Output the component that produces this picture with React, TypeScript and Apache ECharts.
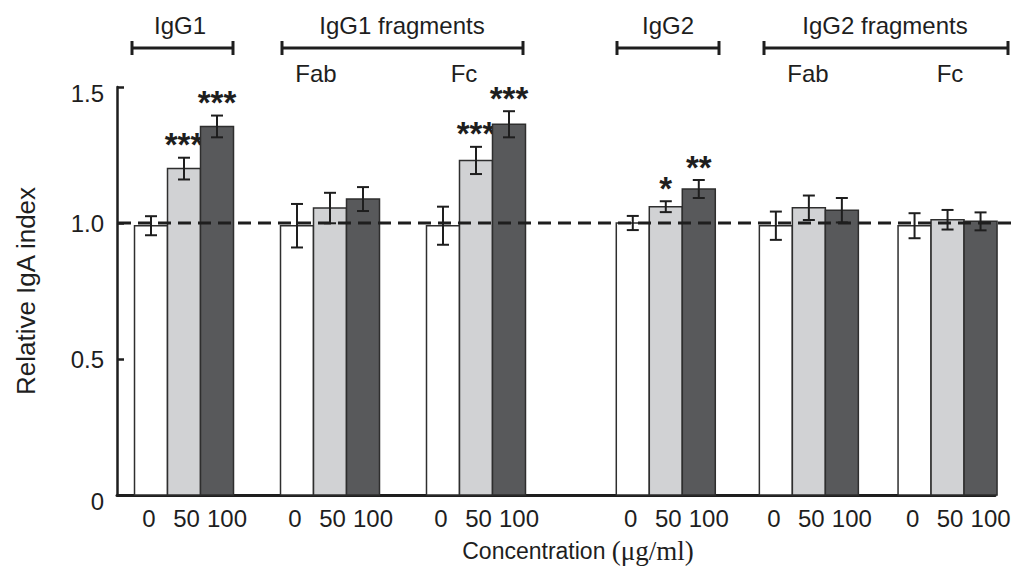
import { useEffect, useRef } from 'react';
import * as echarts from 'echarts';

// Groups of antibody treatment, each measured at three concentrations
const groupNames = ['IgG1', 'IgG1 Fab', 'IgG1 Fc', 'IgG2', 'IgG2 Fab', 'IgG2 Fc'];
const groupPos = [1, 2, 3, 4.3, 5.28, 6.23];
const concentrations = ['0', '50', '100'];

// Relative IgA index (mean) per group, by concentration
const conc0 = [0.99, 0.99, 0.99, 1.0, 0.99, 0.99];
const conc50 = [1.2, 1.055, 1.23, 1.06, 1.056, 1.012];
const conc100 = [1.355, 1.088, 1.363, 1.125, 1.047, 1.006];

// Error (± half-range) per group, by concentration
const err0 = [0.035, 0.08, 0.07, 0.026, 0.052, 0.046];
const err50 = [0.04, 0.056, 0.05, 0.02, 0.045, 0.036];
const err100 = [0.04, 0.044, 0.048, 0.033, 0.045, 0.033];

// Significance marks
const stars0 = ['', '', '', '', '', ''];
const stars50 = ['***', '', '***', '*', '', ''];
const stars100 = ['***', '', '***', '**', '', ''];

const FONT = '"Liberation Sans", Arial, Helvetica, sans-serif';
const SERIF = '"Liberation Serif", "Times New Roman", serif';
const INK = '#1e1e1e';
const BAR_W = 33;
const barColors = ['#ffffff', '#d1d2d4', '#58595b'];
const labelShift = [-2, 2.5, 10];

export default function App() {
  const ref = useRef<HTMLDivElement>(null);

  useEffect(() => {
    const chart = echarts.init(ref.current!, null, { renderer: 'svg' });
    const values = [conc0, conc50, conc100];
    const errors = [err0, err50, err100];
    const stars = [stars0, stars50, stars100];

    const rows: { pos: number; k: number; value: number; err: number; star: string }[] = [];
    groupNames.forEach((_, g) => {
      for (let k = 0; k < 3; k++) {
        rows.push({ pos: groupPos[g], k, value: values[k][g], err: errors[k][g], star: stars[k][g] });
      }
    });

    const bracket = (x1: number, x2: number, y: number) => [
      { type: 'line', shape: { x1, y1: y, x2, y2: y }, style: { stroke: INK, lineWidth: 3 } },
      { type: 'line', shape: { x1, y1: y - 7, x2: x1, y2: y + 7 }, style: { stroke: INK, lineWidth: 3 } },
      { type: 'line', shape: { x1: x2, y1: y - 7, x2, y2: y + 7 }, style: { stroke: INK, lineWidth: 3 } },
    ];
    const label = (text: string, x: number, y: number) => ({
      type: 'text',
      x,
      y,
      style: { text, fill: INK, fontSize: 24, fontFamily: FONT, align: 'center', verticalAlign: 'middle' },
    });

    chart.setOption({
      animation: false,
      grid: { left: 117, right: 23, top: 87, bottom: 78 },
      xAxis: {
        type: 'value',
        min: 0.541,
        max: 6.555,
        axisLine: { lineStyle: { color: INK, width: 3 } },
        axisTick: { show: false },
        axisLabel: { show: false },
        splitLine: { show: false },
      },
      yAxis: {
        type: 'value',
        min: 0,
        max: 1.5,
        interval: 0.5,
        name: 'Relative IgA index',
        nameLocation: 'middle',
        nameGap: 78,
        nameTextStyle: { color: INK, fontSize: 26, fontFamily: FONT },
        axisLine: { show: true, lineStyle: { color: INK, width: 2.5 } },
        axisTick: { show: true, inside: true, length: 7, lineStyle: { color: INK, width: 2.5 } },
        axisLabel: {
          color: INK,
          fontSize: 24,
          fontFamily: FONT,
          margin: 13,
          formatter: (v: number) => {
            if (v === 0) return '{low|0}';
            if (v === 1.5) return '{low|1.5}';
            return v.toFixed(1);
          },
          rich: {
            low: { fontSize: 24, fontFamily: FONT, color: INK, padding: [12, 0, 0, 0] },
          },
        },
        splitLine: { show: false },
      },
      series: [
        {
          type: 'custom',
          clip: false,
          data: rows.map((r) => [r.pos, r.value]),
          encode: { x: 0, y: 1 },
          renderItem: (params: any, api: any) => {
            const r = rows[params.dataIndex];
            const base = api.coord([r.pos, 0]);
            const cx = base[0] + (r.k - 1) * BAR_W;
            const top = api.coord([r.pos, r.value])[1];
            const eTop = api.coord([r.pos, r.value + r.err])[1];
            const eBot = api.coord([r.pos, r.value - r.err])[1];
            const children: any[] = [
              {
                type: 'rect',
                shape: { x: cx - BAR_W / 2, y: top, width: BAR_W, height: base[1] - top },
                style: { fill: barColors[r.k], stroke: '#2e2e2e', lineWidth: 1.5 },
              },
              { type: 'line', shape: { x1: cx, y1: eTop, x2: cx, y2: eBot }, style: { stroke: INK, lineWidth: 2 } },
              { type: 'line', shape: { x1: cx - 6, y1: eTop, x2: cx + 6, y2: eTop }, style: { stroke: INK, lineWidth: 2 } },
              { type: 'line', shape: { x1: cx - 6, y1: eBot, x2: cx + 6, y2: eBot }, style: { stroke: INK, lineWidth: 2 } },
              {
                type: 'text',
                x: cx + labelShift[r.k],
                y: base[1] + 23,
                style: {
                  text: concentrations[r.k],
                  fill: INK,
                  fontSize: 24,
                  fontFamily: FONT,
                  align: 'center',
                  verticalAlign: 'middle',
                },
              },
            ];
            if (r.star) {
              children.push({
                type: 'text',
                x: cx,
                y: eTop - 13,
                style: {
                  text: r.star,
                  fill: INK,
                  fontSize: 33,
                  fontWeight: 'bold',
                  fontFamily: FONT,
                  align: 'center',
                  verticalAlign: 'middle',
                },
              });
            }
            return { type: 'group', children };
          },
        },
      ],
    });

    // Reference line at an index of 1.0, running past the end of the x axis
    const yOne = chart.convertToPixel({ yAxisIndex: 0 }, 1.0) as number;

    chart.setOption({
      graphic: [
        {
          type: 'line',
          z: 100,
          shape: { x1: 118, y1: yOne, x2: 1012, y2: yOne },
          style: { stroke: INK, lineWidth: 3, lineDash: [13, 7] },
        },
        ...bracket(132, 233, 48),
        ...bracket(282, 523, 48),
        ...bracket(617, 719, 48),
        ...bracket(764, 1008, 48),
        label('IgG1', 180, 25),
        label('IgG1 fragments', 402, 25),
        label('IgG2', 668, 25),
        label('IgG2 fragments', 885, 25),
        label('Fab', 316, 73),
        label('Fc', 464, 73),
        label('Fab', 808, 73),
        label('Fc', 950, 73),
        {
          type: 'text',
          x: 578,
          y: 551,
          style: {
            text: '{a|Concentration }{b|(μg/ml)}',
            align: 'center',
            verticalAlign: 'middle',
            rich: {
              a: { fontSize: 23, fontFamily: FONT, fill: INK, color: INK },
              b: { fontSize: 27, fontFamily: SERIF, fill: INK, color: INK },
            },
          },
        },
      ],
    });

    return () => chart.dispose();
  }, []);

  return (
    <div
      ref={ref}
      style={{ position: 'fixed', left: 0, top: 0, width: 1018, height: 573, background: '#ffffff' }}
    />
  );
}
